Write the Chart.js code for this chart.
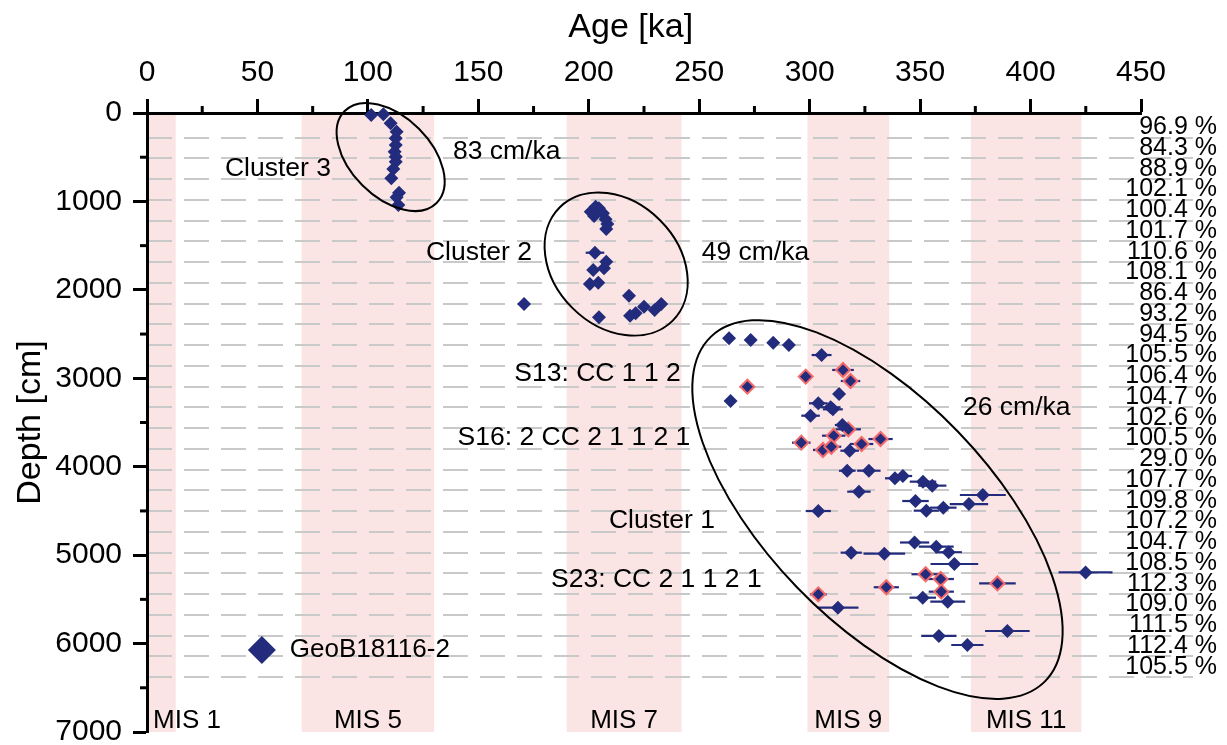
<!DOCTYPE html>
<html>
<head>
<meta charset="utf-8">
<script src="https://cdn.jsdelivr.net/npm/chart.js@4.4.0/dist/chart.umd.min.js"></script>
<style>
  body { margin: 0; background: #fff; }
  canvas { display: block; }
</style>
</head>
<body>
<canvas id="ageChart" width="1227" height="745"></canvas>
<script>
// --- data ---
// samples without a mark (clusters 3, 2, 1)
const plainAges = [
  101.5, 107.0, 110.3, 113.0, 112.6, 112.6, 112.1, 112.6, 112.6, 111.5, 110.6, 114.1, 113.0, 113.8,
  200.9, 203.1, 204.6, 206.4, 202.4, 207.6, 208.4, 207.9, 202.8, 207.9, 206.9, 202.0, 200.5, 204.3,
  218.2, 170.7, 225.0, 221.2, 218.7, 229.8, 232.8, 204.6,
  263.5, 273.3, 283.5, 290.6, 305.4, 264.2, 313.3, 303.9, 309.5, 310.5, 300.4, 314.8, 318.1, 317.0,
  326.8, 338.6, 342.2, 351.3, 355.5, 322.3, 347.9, 352.8, 360.5, 372.1, 303.9, 378.4, 347.5, 357.3,
  362.9, 365.5, 333.8, 318.8, 424.9, 351.2, 362.5, 312.8, 358.5, 389.5, 371.4
];
const plainDepths = [
  23, 15, 117, 211, 286, 362, 437, 494, 550, 633, 739, 901, 954, 1040,
  1116, 1059, 1078, 1134, 1165, 1202, 1255, 1312, 1580, 1681, 1757, 1775, 1934, 1919,
  2066, 2160, 2190, 2265, 2292, 2228, 2160, 2311,
  2548, 2567, 2597, 2624, 2737, 3257, 3178, 3283, 3328, 3351, 3423, 3528, 3819, 4045,
  4045, 4131, 4105, 4169, 4214, 4282, 4388, 4497, 4463, 4422, 4501, 4320, 4857, 4904,
  4967, 5100, 4983, 4972, 5196, 5481, 5526, 5594, 5914, 5858, 6016
];
const plainErr = [
  0, 0, 0, 0, 0, 0, 0, 0, 0, 0, 0, 0, 0, 0,
  0, 0, 0, 0, 0, 0, 0, 0, 4.2, 0, 0, 0, 0, 0,
  0, 0, 0, 0, 0, 0, 0, 0,
  0, 0, 0, 0, 4.5, 0, 0, 4.2, 4.5, 4.5, 4.2, 3.4, 4.2, 3.8,
  5.3, 4.5, 4.2, 6.0, 6.4, 5.3, 6.0, 5.7, 6.0, 8.7, 5.7, 10.4, 6.6, 7.9,
  6.0, 10.8, 9.4, 4.8, 12.2, 6.0, 7.9, 9.3, 8.0, 10.1, 7.3
];
// samples drawn with a red outline
const markedAges = [315.1, 298.2, 318.5, 271.8, 317.5, 310.9, 296.2, 306.0, 309.8, 323.5, 332.1,
  303.9, 334.7, 352.5, 359.3, 359.6, 385.0];
const markedDepths = [2906, 2981, 3031, 3095, 3577, 3649, 3728, 3811, 3774, 3743, 3687,
  5443, 5363, 5216, 5270, 5413, 5320];
const markedErr = [4.9, 0, 4.4, 0, 5.7, 5.3, 4.2, 4.5, 4.5, 5.3, 5.5,
  3.8, 5.7, 6.4, 6.0, 5.7, 8.3];

// marine isotope stages (ka)
const misNames = ['MIS 1', 'MIS 5', 'MIS 7', 'MIS 9', 'MIS 11'];
const misStart = [0, 70, 190, 299, 373];
const misEnd = [13, 130, 242, 336, 423];

// core section breaks (cm) and recovery of each section
const sectionDepths = [279, 514, 748, 983, 1217, 1452, 1687, 1921, 2156, 2390, 2625, 2860, 3094, 3329,
  3563, 3798, 4033, 4267, 4502, 4736, 4971, 5206, 5440, 5675, 5909, 6144, 6379];
const recovery = [96.9, 84.3, 88.9, 102.1, 100.4, 101.7, 110.6, 108.1, 86.4, 93.2, 94.5, 105.5, 106.4, 104.7,
  102.6, 100.5, 29.0, 107.7, 109.8, 107.2, 104.7, 108.5, 112.3, 109.0, 111.5, 112.4, 105.5];

const ageTicks = [0, 50, 100, 150, 200, 250, 300, 350, 400, 450];
const depthTicks = [0, 1000, 2000, 3000, 4000, 5000, 6000, 7000];

const FONT = '"Liberation Sans", Arial, sans-serif';
const NAVY = '#232c7c';

// cluster ellipses: centre in data units, radii in px
const ellipses = [
  { age: 110.3, depth: 498, a: 65, b: 40, rot: 45 },
  { age: 212.4, depth: 1708, a: 80, b: 62, rot: 45 },
  { age: 330.7, depth: 4484, a: 240, b: 112, rot: 46 }
];
const notes = [
  { text: 'Cluster 3', age: 35.3, depth: 633 },
  { text: '83 cm/ka', age: 138.5, depth: 441 },
  { text: 'Cluster 2', age: 126.3, depth: 1583 },
  { text: '49 cm/ka', age: 251.1, depth: 1583 },
  { text: 'S13: CC 1 1 2', age: 166.3, depth: 2951 },
  { text: 'S16: 2 CC 2 1 1 2 1', age: 140.6, depth: 3675 },
  { text: '26 cm/ka', age: 369.4, depth: 3336 },
  { text: 'Cluster 1', age: 209.1, depth: 4614 },
  { text: 'S23: CC 2 1 1 2 1', age: 182.9, depth: 5281 }
];

const toPoints = (xs, ys) => xs.map((v, i) => ({ x: v, y: ys[i] }));

const backgroundPlugin = {
  id: 'background',
  beforeDraw(chart) {
    const { ctx, chartArea: a, scales: { x, y } } = chart;
    ctx.save();
    ctx.fillStyle = '#fbe4e4';
    misStart.forEach((s, i) => {
      const x0 = x.getPixelForValue(s), x1 = x.getPixelForValue(misEnd[i]);
      ctx.fillRect(x0, a.top, x1 - x0, a.bottom - a.top);
    });
    ctx.strokeStyle = '#c9c9c9';
    ctx.lineWidth = 2;
    ctx.setLineDash([25, 12]);
    sectionDepths.forEach(d => {
      const py = Math.round(y.getPixelForValue(d));
      ctx.beginPath();
      ctx.moveTo(a.left, py);
      ctx.lineTo(a.right + 52, py);
      ctx.stroke();
    });
    ctx.restore();
  }
};

const errorBarPlugin = {
  id: 'errorBars',
  beforeDatasetsDraw(chart) {
    const { ctx, scales: { x, y } } = chart;
    ctx.save();
    ctx.strokeStyle = NAVY;
    ctx.lineWidth = 2.2;
    [[plainAges, plainDepths, plainErr], [markedAges, markedDepths, markedErr]].forEach(([xs, ys, es]) => {
      xs.forEach((v, i) => {
        if (!es[i]) return;
        const py = y.getPixelForValue(ys[i]);
        ctx.beginPath();
        ctx.moveTo(x.getPixelForValue(v - es[i]), py);
        ctx.lineTo(x.getPixelForValue(v + es[i]), py);
        ctx.stroke();
      });
    });
    ctx.restore();
  }
};

const overlayPlugin = {
  id: 'overlay',
  afterDatasetsDraw(chart) {
    const { ctx, scales: { x, y } } = chart;
    ctx.save();
    ctx.strokeStyle = '#000';
    ctx.lineWidth = 2;
    ellipses.forEach(e => {
      ctx.beginPath();
      ctx.ellipse(x.getPixelForValue(e.age), y.getPixelForValue(e.depth), e.a, e.b, e.rot * Math.PI / 180, 0, 2 * Math.PI);
      ctx.stroke();
    });
    ctx.restore();
  },
  afterDraw(chart) {
    const { ctx, chartArea: a, scales: { x, y } } = chart;
    ctx.save();
    // minor ticks
    ctx.strokeStyle = '#000';
    ctx.lineWidth = 3;
    for (let v = 25; v < 450; v += 50) {
      const px = x.getPixelForValue(v);
      ctx.beginPath(); ctx.moveTo(px, a.top); ctx.lineTo(px, a.top - 7); ctx.stroke();
    }
    for (let v = 500; v < 7000; v += 1000) {
      const py = y.getPixelForValue(v);
      ctx.beginPath(); ctx.moveTo(a.left, py); ctx.lineTo(a.left - 7, py); ctx.stroke();
    }
    ctx.fillStyle = '#000';
    ctx.textBaseline = 'middle';
    // axis title (sits a little left of centre in the original)
    ctx.font = '34px ' + FONT;
    ctx.textAlign = 'center';
    ctx.fillText('Age [ka]', x.getPixelForValue(219), 28);
    // annotations
    ctx.font = '26.5px ' + FONT;
    ctx.textAlign = 'left';
    notes.forEach(n => ctx.fillText(n.text, x.getPixelForValue(n.age), y.getPixelForValue(n.depth)));
    // stage labels
    ctx.font = '26px ' + FONT;
    ctx.textBaseline = 'alphabetic';
    misNames.forEach((name, i) => {
      const x0 = x.getPixelForValue(misStart[i]), x1 = x.getPixelForValue(misEnd[i]);
      if (i === 0) {
        ctx.textAlign = 'left';
        ctx.fillText(name, x0 + 6, a.bottom - 4);
      } else {
        ctx.textAlign = 'center';
        ctx.fillText(name, (x0 + x1) / 2, a.bottom - 4);
      }
    });
    // recovery labels
    ctx.font = '25px ' + FONT;
    ctx.textAlign = 'right';
    ctx.textBaseline = 'middle';
    const half = (y.getPixelForValue(sectionDepths[1]) - y.getPixelForValue(sectionDepths[0])) / 2;
    sectionDepths.forEach((d, i) => {
      ctx.fillText(recovery[i].toFixed(1) + ' %', a.right + 76, y.getPixelForValue(d) - half);
    });
    // legend
    const lx = x.getPixelForValue(52), ly = y.getPixelForValue(6073);
    ctx.fillStyle = NAVY;
    ctx.beginPath();
    ctx.moveTo(lx - 14, ly); ctx.lineTo(lx, ly - 14); ctx.lineTo(lx + 14, ly); ctx.lineTo(lx, ly + 14);
    ctx.closePath(); ctx.fill();
    ctx.fillStyle = '#000';
    ctx.font = '26px ' + FONT;
    ctx.textAlign = 'left';
    ctx.fillText(chart.data.datasets[0].label, lx + 28, ly);
    ctx.restore();
  }
};

new Chart(document.getElementById('ageChart'), {
  type: 'scatter',
  data: {
    datasets: [
      {
        label: 'GeoB18116-2',
        data: toPoints(plainAges, plainDepths),
        pointStyle: 'rectRot',
        pointRadius: 7,
        backgroundColor: NAVY,
        borderWidth: 0,
        clip: false
      },
      {
        label: 'GeoB18116-2 (marked)',
        data: toPoints(markedAges, markedDepths),
        pointStyle: 'rectRot',
        pointRadius: 7,
        backgroundColor: NAVY,
        borderColor: '#f46a6a',
        borderWidth: 2,
        clip: false
      }
    ]
  },
  options: {
    responsive: false,
    animation: false,
    layout: { padding: { left: 0, top: 0, right: 86, bottom: 13 } },
    plugins: { legend: { display: false }, tooltip: { enabled: false } },
    scales: {
      x: {
        type: 'linear',
        position: 'top',
        min: 0,
        max: 450,
        afterBuildTicks: s => { s.ticks = ageTicks.map(v => ({ value: v })); },
        afterFit: s => { s.height = 113; s.paddingLeft = 0; s.paddingRight = 0; },
        ticks: { color: '#000', font: { family: FONT, size: 30 }, padding: 8, maxRotation: 0, callback: v => String(v) },
        grid: { drawOnChartArea: false, tickLength: 14, tickWidth: 3, tickColor: '#000' },
        border: { display: true, width: 3, color: '#000' },
        title: { display: false }
      },
      y: {
        type: 'linear',
        reverse: true,
        min: 0,
        max: 7000,
        afterBuildTicks: s => { s.ticks = depthTicks.map(v => ({ value: v })); },
        afterFit: s => { s.width = 147; s.paddingTop = 0; s.paddingBottom = 0; },
        ticks: { color: '#000', font: { family: FONT, size: 30 }, padding: 11, callback: v => String(v) },
        grid: { drawOnChartArea: false, tickLength: 14, tickWidth: 3, tickColor: '#000' },
        border: { display: true, width: 3, color: '#000' },
        title: { display: true, text: 'Depth [cm]', color: '#000', font: { family: FONT, size: 34 }, padding: { top: 10, bottom: 0 } }
      }
    }
  },
  plugins: [backgroundPlugin, errorBarPlugin, overlayPlugin]
});
</script>
</body>
</html>
